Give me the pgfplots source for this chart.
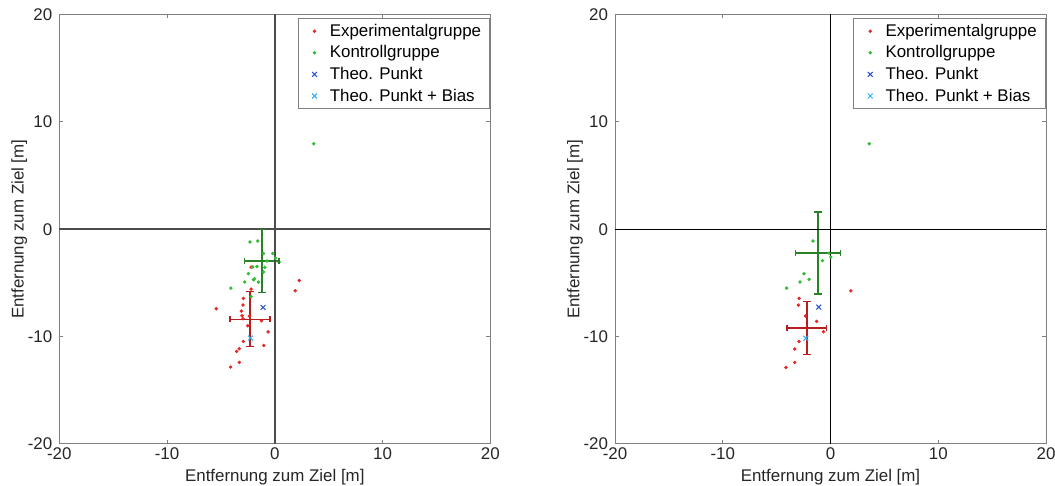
\documentclass[border=0pt]{standalone}
\usepackage{pgfplots}
\pgfplotsset{compat=1.18}
\usepackage{fontspec}
\setmainfont{Liberation Sans}
\definecolor{expred}{RGB}{230,40,40}
\definecolor{kongreen}{RGB}{50,190,50}
\definecolor{errred}{RGB}{185,30,30}
\definecolor{errgreen}{RGB}{40,130,40}
\definecolor{theoblue}{RGB}{40,80,210}
\definecolor{theocyan}{RGB}{40,175,240}
\definecolor{txtgray}{RGB}{38,38,38}

\pgfplotstableread{
x y
-2.20 -3.52
2.27 -4.77
1.89 -5.73
-2.20 -5.57
-2.92 -6.44
-2.95 -7.06
-5.43 -7.40
-3.10 -7.62
-3.04 -8.05
-2.36 -8.10
-2.95 -8.33
-1.24 -8.52
-2.51 -8.99
-0.62 -9.55
-2.92 -10.45
-1.02 -10.82
-3.29 -11.13
-3.54 -11.38
-3.29 -12.40
-4.10 -12.83
}\expA
\pgfplotstableread{
x y
-2.30 -1.19
-1.58 -1.10
-1.05 -2.25
-0.19 -2.25
-0.72 -2.96
0.06 -2.69
0.40 -3.06
-2.05 -3.52
-1.65 -3.47
-0.93 -3.55
-1.05 -3.99
-2.45 -4.14
-1.89 -4.61
-1.98 -4.70
-2.79 -4.92
-1.52 -4.92
-4.07 -5.48
-2.20 -6.28
3.62 7.96
}\konA
\pgfplotstableread{
x y
1.89 -5.73
-2.92 -6.44
-2.98 -7.06
-2.33 -8.08
-1.28 -8.58
-0.65 -9.54
-2.92 -10.45
-3.32 -11.16
-3.32 -12.40
-4.13 -12.87
}\expB
\pgfplotstableread{
x y
-1.62 -1.10
-0.13 -2.22
-0.75 -2.93
0.03 -2.59
-2.46 -4.14
-1.99 -4.67
-2.83 -4.92
-4.07 -5.48
3.60 7.96
}\konB

\pgfplotsset{
  myaxis/.style={
    scale only axis, width=215.5pt, height=214.75pt,
    xmin=-20, xmax=20, ymin=-20, ymax=20,
    xtick={-20,-10,0,10,20}, ytick={-20,-10,0,10,20},
    xticklabels={-20,-10,0,10,20}, yticklabels={-20,-10,0,10,20},
    tick align=inside, major tick length=2pt,
    axis line style={black!50, line width=0.5pt},
    tick style={black!50, line width=0.5pt},
    font=\fontsize{8.45}{10}\selectfont,
    ticklabel style={text=txtgray},
    xticklabel style={yshift=1.5pt},
    label style={text=txtgray},
    xlabel={Entfernung zum Ziel [m]},
    ylabel={Entfernung zum Ziel [m]},
    xlabel style={at={(axis description cs:0.5,-0.0768)}, anchor=center},
    ylabel style={at={(axis description cs:-0.0928,0.5)}, anchor=center},
    legend style={at={(1,1)}, anchor=north east, yshift=-1.75pt,
      draw=black!50, line width=0.4pt, fill=white,
      font=\fontsize{8.45}{10}\selectfont, text=black,
      inner xsep=2pt, inner ysep=1pt, row sep=0pt,
      nodes={inner xsep=2.4pt, inner ysep=0.4pt, text height=7.5pt, text depth=2.5pt}},
    legend cell align=left,
    legend image code/.code={\path (0pt,0pt) (11pt,0pt); \draw[##1] plot coordinates {(6pt,0pt)};},
    clip=false,
  },
  ptsred/.style={only marks, mark=*, mark size=0.65pt, color=expred},
  ptsgreen/.style={only marks, mark=*, mark size=0.65pt, color=kongreen},
  ptsblue/.style={only marks, mark=x, mark size=1.7pt, color=theoblue, line width=0.5pt},
  ptscyan/.style={only marks, mark=x, mark size=1.7pt, color=theocyan, line width=0.5pt},
  eline/.style={color=#1, line width=0.7pt, mark=none, forget plot},
  ecapv/.style={color=#1, line width=0.7pt, only marks, mark=-, mark size=2pt, forget plot},
  ecaph/.style={color=#1, line width=0.7pt, only marks, mark=|, mark size=1.6pt, forget plot},
}

\begin{document}
\begin{tikzpicture}
\useasboundingbox (0,0) rectangle (527.5pt,243pt);
\begin{axis}[myaxis, at={(29.65pt,21pt)}, anchor=south west]
\addplot[ptsred] table[x=x,y=y] {\expA};
\addlegendentry{Experimentalgruppe}
\addplot[ptsgreen] table[x=x,y=y] {\konA};
\addlegendentry{Kontrollgruppe}
\addplot[ptsblue] coordinates {(-1.09,-7.28)};
\addlegendentry{Theo. Punkt}
\addplot[ptscyan] coordinates {(-2.26,-10.13)};
\addlegendentry{Theo. Punkt + Bias}
% green: mean (-1.20,-2.95), sx 1.60, sy 2.93
\addplot[eline=errgreen] coordinates {(-1.20,-5.88) (-1.20,-0.02)};
\addplot[eline=errgreen] coordinates {(-2.80,-2.95) (0.40,-2.95)};
\addplot[ecapv=errgreen] coordinates {(-1.20,-5.88) (-1.20,-0.02)};
\addplot[ecaph=errgreen] coordinates {(-2.80,-2.95) (0.40,-2.95)};
% red: mean (-2.31,-8.38), sx 1.85, sy 2.56
\addplot[eline=errred] coordinates {(-2.31,-10.94) (-2.31,-5.82)};
\addplot[eline=errred] coordinates {(-4.16,-8.38) (-0.46,-8.38)};
\addplot[ecapv=errred] coordinates {(-2.31,-10.94) (-2.31,-5.82)};
\addplot[ecaph=errred] coordinates {(-4.16,-8.38) (-0.46,-8.38)};
\draw[black!70, line width=1.1pt] (axis cs:-20,0) -- (axis cs:20,0);
\draw[black!70, line width=1.1pt] (axis cs:0,-20) -- (axis cs:0,20);
\end{axis}
\begin{axis}[myaxis, at={(307.5pt,21pt)}, anchor=south west]
\addplot[ptsred] table[x=x,y=y] {\expB};
\addlegendentry{Experimentalgruppe}
\addplot[ptsgreen] table[x=x,y=y] {\konB};
\addlegendentry{Kontrollgruppe}
\addplot[ptsblue] coordinates {(-1.09,-7.25)};
\addlegendentry{Theo. Punkt}
\addplot[ptscyan] coordinates {(-2.28,-10.15)};
\addlegendentry{Theo. Punkt + Bias}
% green: mean (-1.15,-2.22), sx 2.08, sy 3.82
\addplot[eline=errgreen] coordinates {(-1.15,-6.04) (-1.15,1.60)};
\addplot[eline=errgreen] coordinates {(-3.23,-2.22) (0.93,-2.22)};
\addplot[ecapv=errgreen] coordinates {(-1.15,-6.04) (-1.15,1.60)};
\addplot[ecaph=errgreen] coordinates {(-3.23,-2.22) (0.93,-2.22)};
% red: mean (-2.20,-9.20), sx 1.82, sy 2.47
\addplot[eline=errred] coordinates {(-2.20,-11.67) (-2.20,-6.73)};
\addplot[eline=errred] coordinates {(-4.02,-9.20) (-0.38,-9.20)};
\addplot[ecapv=errred] coordinates {(-2.20,-11.67) (-2.20,-6.73)};
\addplot[ecaph=errred] coordinates {(-4.02,-9.20) (-0.38,-9.20)};
\draw[black, line width=0.6pt] (axis cs:-20,0) -- (axis cs:20,0);
\draw[black, line width=0.6pt] (axis cs:0,-20) -- (axis cs:0,20);
\end{axis}
\end{tikzpicture}
\end{document}
